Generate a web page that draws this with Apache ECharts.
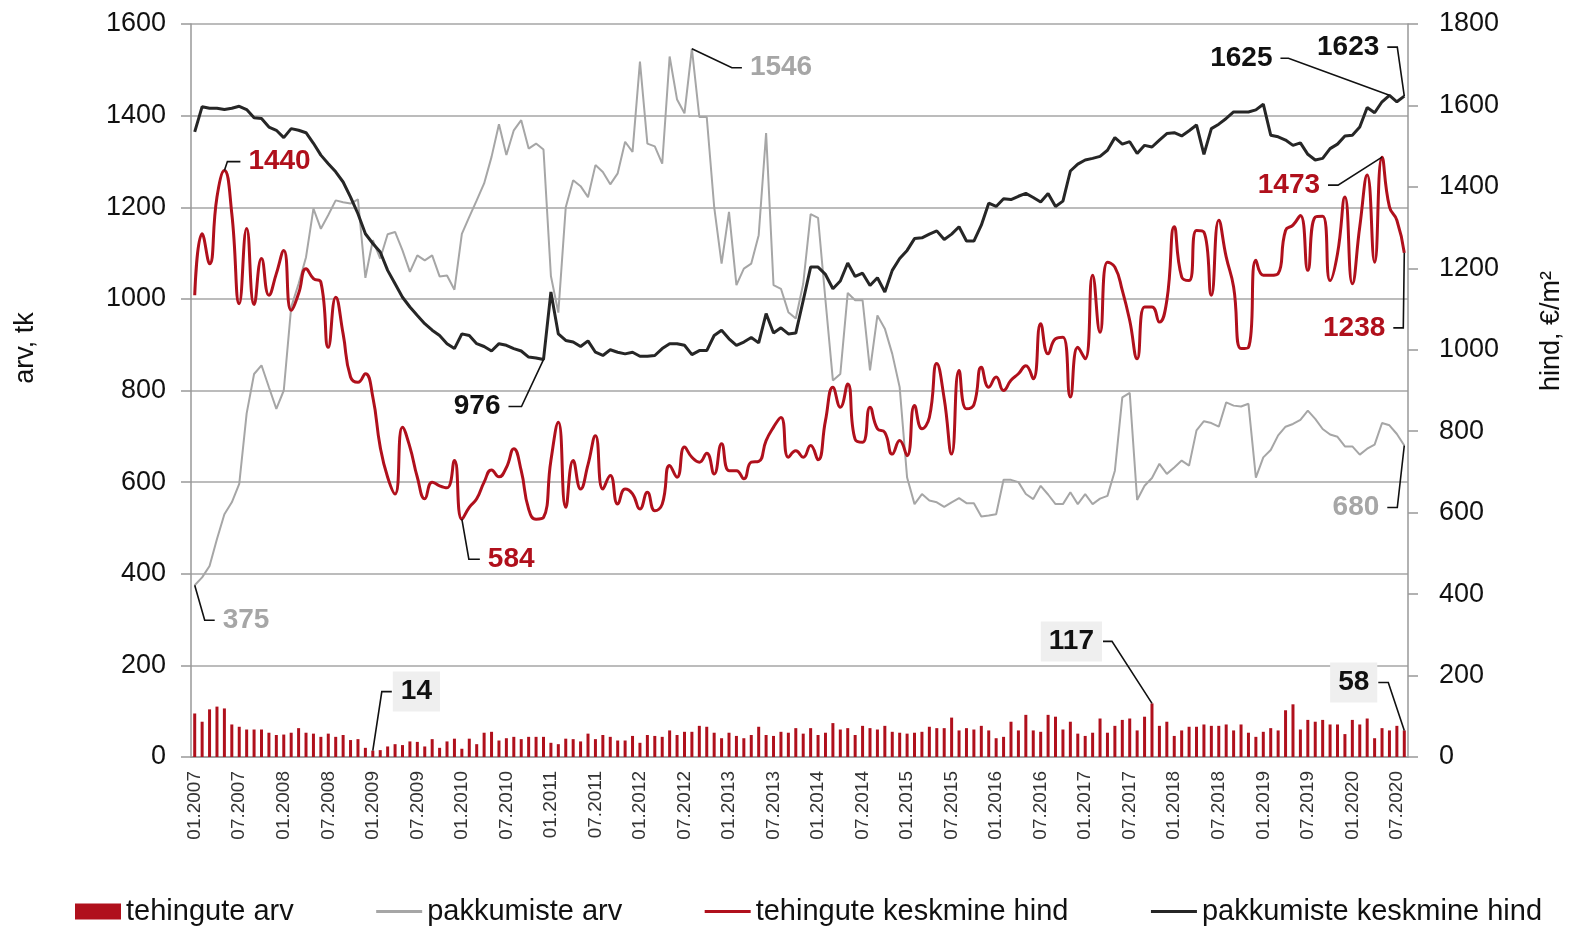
<!DOCTYPE html>
<html>
<head>
<meta charset="utf-8">
<script src="https://cdn.jsdelivr.net/npm/echarts@6/dist/echarts.min.js"></script>
<style>
  html, body { margin: 0; padding: 0; background: #fff; }
  #main { width: 1573px; height: 926px; }
</style>
</head>
<body>
<div id="main"></div>
<script>
// kuud 01.2007 ... 08.2020
const months = []
for (let y = 2007; y <= 2020; y++) {
  for (let m = 1; m <= 12; m++) {
    if (y === 2020 && m > 8) break
    months.push((m < 10 ? '0' + m : '' + m) + '.' + y)
  }
}

// tehingute arv (vasak telg)
const tehinguteArv = [
  95, 77, 104, 110, 106, 71, 66, 60, 60, 60, 53, 48,
  49, 53, 63, 53, 51, 44, 51, 44, 48, 37, 39, 20,
  14, 15, 23, 28, 26, 34, 33, 23, 39, 20, 34, 40,
  18, 40, 28, 53, 55, 36, 41, 44, 39, 44, 44, 44,
  31, 28, 40, 39, 34, 51, 39, 48, 44, 36, 36, 46,
  31, 48, 46, 44, 58, 48, 55, 55, 68, 66, 53, 41,
  53, 46, 41, 48, 66, 48, 46, 55, 53, 63, 51, 63,
  48, 53, 74, 60, 63, 48, 68, 63, 60, 68, 55, 53,
  51, 53, 55, 66, 63, 63, 86, 58, 63, 60, 68, 58,
  41, 44, 77, 58, 92, 58, 55, 92, 88, 60, 77, 51,
  46, 53, 84, 53, 68, 81, 84, 58, 88, 117, 68, 77,
  46, 58, 66, 66, 71, 68, 68, 71, 58, 71, 53, 44,
  55, 63, 58, 102, 115, 60, 81, 77, 81, 71, 71, 50,
  81, 71, 84, 41, 63, 58, 68, 58
]

// pakkumiste arv (vasak telg)
const pakkumisteArv = [
  375, 392, 417, 476, 530, 556, 596, 750, 836, 855, 807, 760,
  800, 982, 1033, 1091, 1197, 1153, 1183, 1215, 1211, 1208, 1217, 1046,
  1128, 1088, 1141, 1146, 1106, 1059, 1095, 1084, 1095, 1049, 1051, 1020,
  1142, 1179, 1215, 1252, 1310, 1381, 1314, 1368, 1390, 1328, 1339, 1326,
  1050, 970, 1200, 1259, 1246, 1222, 1292, 1277, 1250, 1274, 1343, 1321,
  1518, 1339, 1333, 1295, 1529, 1435, 1405, 1546, 1397, 1397, 1201, 1077,
  1190, 1030, 1066, 1077, 1139, 1362, 1030, 1022, 971, 957, 1033, 1185,
  1177, 997, 822, 836, 1013, 997, 997, 844, 964, 935, 880, 807,
  610, 552, 574, 560, 556, 546, 556, 565, 554, 554, 525, 527,
  530, 605, 605, 600, 574, 563, 592, 573, 552, 552, 578, 552,
  574, 552, 564, 570, 625, 785, 795, 561, 592, 609, 640, 618,
  632, 647, 636, 713, 733, 729, 721, 774, 767, 765, 771, 610,
  654, 670, 702, 721, 727, 736, 756, 738, 716, 704, 699, 678,
  678, 660, 673, 682, 729, 724, 705, 680
]

// tehingute keskmine hind, €/m² (parem telg)
const tehinguteHind = [
  1134, 1285, 1211, 1375, 1440, 1334, 1113, 1298, 1111, 1224, 1134, 1187,
  1244, 1097, 1138, 1199, 1175, 1166, 1006, 1129, 1039, 933, 920, 941,
  884, 761, 687, 646, 810, 761, 687, 634, 675, 666, 661, 728,
  584, 613, 634, 675, 705, 688, 711, 757, 703, 609, 584, 588,
  728, 822, 613, 728, 658, 718, 789, 658, 691, 621, 658, 646,
  609, 650, 605, 621, 716, 687, 761, 736, 724, 746, 695, 769,
  703, 703, 683, 724, 726, 777, 810, 834, 736, 752, 736, 765,
  730, 826, 908, 859, 916, 780, 773, 859, 806, 797, 744, 777,
  740, 863, 806, 834, 966, 880, 744, 949, 855, 865, 957, 908,
  933, 900, 925, 941, 961, 929, 1064, 990, 1027, 1031, 884, 1006,
  978, 1183, 1043, 1215, 1203, 1146, 1072, 978, 1105, 1105, 1068, 1121,
  1302, 1179, 1170, 1293, 1289, 1134, 1318, 1228, 1154, 1003, 1006, 1220,
  1183, 1183, 1187, 1293, 1306, 1330, 1195, 1326, 1328, 1170, 1236, 1375,
  1162, 1302, 1429, 1215, 1473, 1351, 1318, 1238
]

// pakkumiste keskmine hind, €/m² (parem telg)
const pakkumisteHind = [
  1535, 1597, 1593, 1593, 1590, 1593, 1598, 1590, 1570, 1568, 1547, 1539,
  1521, 1543, 1539, 1533, 1507, 1478, 1457, 1437, 1412, 1375, 1334, 1285,
  1261, 1240, 1195, 1162, 1129, 1105, 1084, 1064, 1048, 1035, 1015, 1003,
  1039, 1035, 1015, 1008, 997, 1015, 1011, 1003, 997, 982, 980, 976,
  1142, 1039, 1023, 1019, 1008, 1022, 994, 986, 1000, 994, 990, 994,
  984, 984, 986, 1003, 1015, 1015, 1011, 988, 998, 998, 1035, 1048,
  1027, 1011, 1019, 1030, 1017, 1089, 1041, 1054, 1039, 1041, 1121, 1203,
  1203, 1185, 1150, 1169, 1213, 1180, 1188, 1158, 1177, 1142, 1195, 1224,
  1244, 1273, 1275, 1284, 1292, 1271, 1284, 1302, 1267, 1267, 1306, 1360,
  1352, 1371, 1369, 1377, 1384, 1374, 1363, 1384, 1352, 1365, 1439, 1456,
  1466, 1470, 1475, 1490, 1521, 1505, 1511, 1482, 1502, 1498, 1515, 1531,
  1533, 1525, 1538, 1552, 1480, 1543, 1554, 1568, 1584, 1584, 1584, 1589,
  1603, 1527, 1523, 1515, 1502, 1508, 1480, 1466, 1470, 1494, 1505, 1525,
  1527, 1547, 1595, 1582, 1609, 1625, 1609, 1623
]

const seriesData = [tehinguteArv, pakkumisteArv, tehinguteHind, pakkumisteHind]

const RED = '#b0101c'
const GRAY = '#a6a6a6'
const BLACK = '#262626'
const FONT = '"Liberation Sans", Arial, sans-serif'

// viited: seeria, kuu indeks, murdjoone nihked punktist, tekst
const notes = [
  { s: 2, i: 4, pts: [[3, -9], [16, -9]], text: '1440', color: RED },
  { s: 3, i: 47, pts: [[-22, 47], [-35, 47]], text: '976', color: '#111' },
  { s: 1, i: 67, pts: [[40, 19], [50, 19]], text: '1546', color: GRAY },
  { s: 3, i: 161, pts: [[-101, -37], [-109, -37]], text: '1625', color: '#111' },
  { s: 3, i: 163, pts: [[-7, -49], [-17, -49]], text: '1623', color: '#111' },
  { s: 2, i: 160, pts: [[-44, 28], [-54, 28]], text: '1473', color: RED },
  { s: 2, i: 163, pts: [[-1, 75], [-11, 75]], text: '1238', color: RED },
  { s: 1, i: 163, pts: [[-7, 62], [-17, 62]], text: '680', color: GRAY },
  { s: 1, i: 0, pts: [[10, 35], [20, 35]], text: '375', color: GRAY },
  { s: 2, i: 36, pts: [[7, 40], [18, 40]], text: '584', color: RED },
  { s: 0, i: 24, pts: [[9, -59], [19, -59]], text: '14', color: '#111', box: true },
  { s: 0, i: 129, pts: [[-40, -62], [-49, -62]], text: '117', color: '#111', box: true },
  { s: 0, i: 163, pts: [[-16, -48], [-26, -48]], text: '58', color: '#111', box: true }
]

const chart = echarts.init(document.getElementById('main'), null, { renderer: 'canvas' })

const option = {
  animation: false,
  backgroundColor: '#fff',
  textStyle: { fontFamily: FONT },
  grid: { left: 191, right: 165, top: 24, bottom: 169 },
  legend: {
    left: 75,
    top: 897,
    padding: 0,
    itemWidth: 46,
    itemHeight: 16,
    itemGap: 81,
    textStyle: { fontSize: 29, color: '#111', fontFamily: FONT },
    data: [
      { name: 'tehingute arv', icon: 'rect' },
      { name: 'pakkumiste arv', itemStyle: { opacity: 0 }, lineStyle: { width: 3 } },
      { name: 'tehingute keskmine hind', itemStyle: { opacity: 0 }, lineStyle: { width: 3 } },
      { name: 'pakkumiste keskmine hind', itemStyle: { opacity: 0 }, lineStyle: { width: 3 } }
    ]
  },
  xAxis: {
    type: 'category',
    data: months,
    boundaryGap: true,
    axisLine: { lineStyle: { color: '#999', width: 1.5 } },
    axisTick: { show: false },
    axisLabel: {
      rotate: 90,
      interval: 5,
      fontSize: 19,
      color: '#333',
      margin: 14,
      fontFamily: FONT
    }
  },
  yAxis: [
    {
      type: 'value',
      min: 0,
      max: 1600,
      interval: 200,
      position: 'left',
      axisLine: { show: true, lineStyle: { color: '#999', width: 1.5 } },
      axisTick: { show: true, length: 10, lineStyle: { color: '#999', width: 1.5 } },
      axisLabel: { fontSize: 27, color: '#111', margin: 25, fontFamily: FONT, formatter: v => String(v) },
      splitLine: { lineStyle: { color: '#a6a6a6', width: 1.5 } }
    },
    {
      type: 'value',
      min: 0,
      max: 1800,
      interval: 200,
      position: 'right',
      axisLine: { show: true, lineStyle: { color: '#999', width: 1.5 } },
      axisTick: { show: true, length: 10, lineStyle: { color: '#999', width: 1.5 } },
      axisLabel: { fontSize: 27, color: '#111', margin: 31, fontFamily: FONT, formatter: v => String(v) },
      splitLine: { show: false }
    }
  ],
  series: [
    {
      name: 'tehingute arv',
      type: 'bar',
      yAxisIndex: 0,
      barWidth: 3,
      itemStyle: { color: RED },
      data: tehinguteArv
    },
    {
      name: 'pakkumiste arv',
      type: 'line',
      yAxisIndex: 0,
      symbol: 'none',
      lineStyle: { color: GRAY, width: 2 },
      itemStyle: { color: GRAY },
      data: pakkumisteArv
    },
    {
      name: 'tehingute keskmine hind',
      type: 'line',
      yAxisIndex: 1,
      symbol: 'none',
      smooth: 0.5,
      lineStyle: { color: RED, width: 3 },
      itemStyle: { color: RED },
      data: tehinguteHind
    },
    {
      name: 'pakkumiste keskmine hind',
      type: 'line',
      yAxisIndex: 1,
      symbol: 'none',
      lineStyle: { color: BLACK, width: 3 },
      itemStyle: { color: BLACK },
      data: pakkumisteHind
    }
  ]
}

chart.setOption(option)

// telgede nimed ja viited
function drawNotes() {
  const elements = [
    {
      type: 'text', x: 26, y: 348, rotation: Math.PI / 2,
      style: { text: 'arv, tk', font: '27px ' + FONT, fill: '#111', align: 'center', verticalAlign: 'middle', textAlign: 'center', textVerticalAlign: 'middle' }
    },
    {
      type: 'text', x: 1552, y: 331, rotation: Math.PI / 2,
      style: { text: 'hind, €/m²', font: '27px ' + FONT, fill: '#111', align: 'center', verticalAlign: 'middle', textAlign: 'center', textVerticalAlign: 'middle' }
    }
  ]
  notes.forEach(n => {
    const p = chart.convertToPixel({ seriesIndex: n.s }, [n.i, seriesData[n.s][n.i]])
    const pts = [[p[0], p[1]]].concat(n.pts.map(d => [p[0] + d[0], p[1] + d[1]]))
    const end = pts[pts.length - 1]
    const prev = pts[pts.length - 2]
    const toRight = end[0] >= prev[0]
    elements.push({
      type: 'polyline',
      z: 100,
      shape: { points: pts },
      style: { stroke: '#111', lineWidth: 1.6, fill: null }
    })
    const gap = n.box ? 1 : 8
    elements.push({
      type: 'text',
      z: 101,
      x: end[0] + (toRight ? gap : -gap),
      y: end[1],
      style: {
        text: n.text,
        font: 'bold 28px ' + FONT,
        fill: n.color,
        align: toRight ? 'left' : 'right',
        verticalAlign: 'middle',
        textAlign: toRight ? 'left' : 'right',
        textVerticalAlign: 'middle',
        backgroundColor: n.box ? '#efefef' : null,
        padding: n.box ? [6, 8, 6, 8] : 0
      }
    })
  })
  chart.setOption({ graphic: { elements: elements } })
}
drawNotes()
</script>
</body>
</html>
